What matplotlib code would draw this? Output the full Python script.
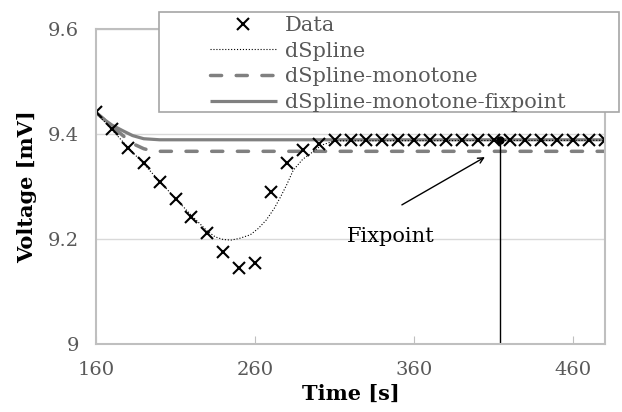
import numpy as np
import matplotlib
matplotlib.use('Agg')
import matplotlib.pyplot as plt
from matplotlib.patches import Rectangle

plt.rcParams['font.family'] = ['DejaVu Serif']

# measured data
time = [160, 170, 180, 190, 200, 210, 220, 230, 240, 250, 260, 270, 280, 290, 300,
        310, 320, 330, 340, 350, 360, 370, 380, 390, 400, 410, 420, 430, 440, 450,
        460, 470, 480]
volt = [9.441, 9.410, 9.373, 9.344, 9.309, 9.276, 9.242, 9.211, 9.176, 9.144,
        9.155, 9.290, 9.345, 9.370, 9.381,
        9.388, 9.388, 9.388, 9.388, 9.388, 9.388, 9.388, 9.388, 9.388, 9.388,
        9.388, 9.388, 9.388, 9.388, 9.388, 9.388, 9.388, 9.388]

# dSpline
t_spl = [160, 170, 180, 190, 200, 210, 220, 230, 235, 240, 245, 250, 257, 262, 267,
         272, 276, 280, 284, 290, 295, 302, 310, 480]
v_spl = [9.441, 9.408, 9.375, 9.343, 9.310, 9.277, 9.245, 9.215, 9.204, 9.199, 9.198,
         9.201, 9.208, 9.220, 9.236, 9.258, 9.280, 9.304, 9.331, 9.352, 9.363, 9.379,
         9.387, 9.388]

# dSpline-monotone
t_mono = [160, 170, 175, 180, 185, 190, 195, 200, 480]
v_mono = [9.441, 9.415, 9.402, 9.389, 9.379, 9.372, 9.368, 9.367, 9.367]

# dSpline-monotone-fixpoint
t_fix = [160, 165, 170, 177, 183, 190, 200, 480]
v_fix = [9.441, 9.428, 9.417, 9.406, 9.397, 9.391, 9.389, 9.389]

fix_t = 414
fix_v = 9.388

fig = plt.figure(figsize=(6.22, 4.12), dpi=100)
ax = fig.add_axes([96/622, 1-344/412, (605-96)/622, (344-29)/412])

grey = '#808080'
l4, = ax.plot(t_fix, v_fix, '-', color=grey, lw=2.3, solid_capstyle='butt')
l3, = ax.plot(t_mono, v_mono, '--', color=grey, lw=2.5, dash_capstyle='round')
l3.set_dashes([3.2, 4.2])
l2, = ax.plot(t_spl, v_spl, ':', color='black', lw=0.8)
l1, = ax.plot(time, volt, 'x', color='black', ms=8, mew=1.5, ls='none')

ax.plot([fix_t, fix_t], [9.0, fix_v], color='black', lw=1.0)
ax.plot(fix_t, fix_v, 'o', color='black', ms=5)
ax.annotate('', xy=(404.5, 9.356), xytext=(352.3, 9.265),
            arrowprops=dict(arrowstyle='->', color='black', lw=1.0,
                            shrinkA=0, shrinkB=0))
ax.text(345, 9.204, 'Fixpoint', fontsize=15, ha='center', va='center')

ax.set_xlim(160, 480)
ax.set_ylim(9.0, 9.6)
ax.set_xticks([160, 260, 360, 460])
ax.set_yticks([9.0, 9.2, 9.4, 9.6])
ax.set_yticklabels(['9', '9.2', '9.4', '9.6'])
ax.tick_params(axis='x', direction='in', length=6, color='#bfbfbf', labelsize=14,
               labelcolor='#595959', pad=12)
ax.tick_params(axis='y', length=0, labelsize=14, labelcolor='#595959', pad=12)
ax.grid(axis='y', color='#d9d9d9', lw=1.0)
ax.set_axisbelow(True)
for s in ax.spines.values():
    s.set_color('#bfbfbf')
    s.set_linewidth(1.5)

ax.set_xlabel('Time [s]', fontsize=15, fontweight='bold', labelpad=4)
ax.set_ylabel('Voltage [mV]', fontsize=15, fontweight='bold', labelpad=8)

# legend box
fig.patches.append(Rectangle((159/622, 1-112/412), (619-159)/622, (112-12)/412,
                             transform=fig.transFigure, facecolor='white',
                             edgecolor='#a6a6a6', lw=1.2, zorder=5))
leg = fig.legend([l1, l2, l3, l4],
                 ['Data', 'dSpline', 'dSpline-monotone', 'dSpline-monotone-fixpoint'],
                 loc='upper left', bbox_to_anchor=(210/622, 1-16/412),
                 frameon=False, fontsize=15, handlelength=3.2, handletextpad=0.38,
                 labelspacing=0.32, borderpad=0, borderaxespad=0)
leg.set_zorder(6)
for t in leg.get_texts():
    t.set_color('#595959')

fig.savefig('out.png', dpi=100)
